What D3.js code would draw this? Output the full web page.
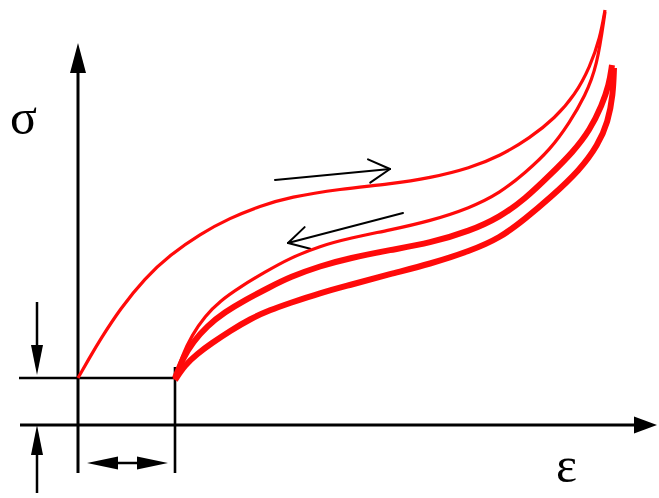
<!DOCTYPE html>
<html>
<head>
<meta charset="utf-8">
<script src="https://cdn.jsdelivr.net/npm/d3@7"></script>
<style>
  html, body { margin: 0; padding: 0; background: #fff; }
  svg { display: block; }
</style>
</head>
<body>
<script>
// ---- data (strain, stress in arbitrary units) ----
const sigma0 = 47;   // initial stress level
const epsRes = 97;   // residual strain after first loop

const loadingCurve = [
  [0,47],[12,68],[22,85],[42,116],[67,147],[92,170],[122,191],[152,207],[182,219],
  [212,228],[262,236],[312,241],[352,247],[392,257],[422,269],[452,287],[477,307],
  [497,330],[512,358],[522,387],[527,415]
];
const unloadCurve1 = [
  [97,47],[104,69],[114,90],[127,109],[142,124],[162,138],[187,153],[212,167],
  [242,179],[272,187],[312,195],[352,204],[392,217],[422,232],[447,252],[472,275],
  [492,303],[507,329],[519,358],[527,413]
];
const unloadCurve2 = [
  [97,47],[105,67],[115,83],[129,99],[147,113],[167,125],[192,138],[212,148],
  [242,159],[272,167],[312,175],[352,182],[392,194],[422,208],[447,226],[472,250],
  [495,273],[512,295],[524,320],[531,340],[534,360]
];
const unloadCurve3 = [
  [97,45],[107,60],[119,71],[134,82],[152,94],[172,106],[192,115],[212,122],
  [242,132],[272,140],[312,151],[352,161],[392,174],[422,187],[447,206],[472,227],
  [502,255],[520,280],[530,303],[535,330],[536,357]
];
const curves = [
  {name: "loading",  pts: loadingCurve, w: 3.2},
  {name: "unload1",  pts: unloadCurve1, w: 3.2},
  {name: "unload2",  pts: unloadCurve2, w: 6},
  {name: "unload3",  pts: unloadCurve3, w: 6}
];
const strainLabel = "ε";
const stressLabel = "σ";

// ---- layout ----
const W = 659, H = 498;
const x = d3.scaleLinear().domain([0, 580]).range([78, 658]);
const y = d3.scaleLinear().domain([0, 425]).range([425, 0]);

const svg = d3.select("body").append("svg").attr("width", W).attr("height", H);

function filledArrow(g, x1, y1, x2, y2, L, hw, sw) {
  const dx = x2 - x1, dy = y2 - y1, len = Math.hypot(dx, dy);
  const ux = dx / len, uy = dy / len;
  const bx = x2 - ux * L, by = y2 - uy * L;
  g.append("line").attr("x1", x1).attr("y1", y1).attr("x2", bx + ux * 2).attr("y2", by + uy * 2)
    .attr("stroke", "#000").attr("stroke-width", sw);
  g.append("path")
    .attr("d", `M${x2},${y2}L${bx - uy * hw},${by + ux * hw}L${bx + uy * hw},${by - ux * hw}Z`)
    .attr("fill", "#000");
}
function filledHead(g, x1, y1, x2, y2, L, hw) {
  const dx = x2 - x1, dy = y2 - y1, len = Math.hypot(dx, dy);
  const ux = dx / len, uy = dy / len;
  const bx = x2 - ux * L, by = y2 - uy * L;
  g.append("path")
    .attr("d", `M${x2},${y2}L${bx - uy * hw},${by + ux * hw}L${bx + uy * hw},${by - ux * hw}Z`)
    .attr("fill", "#000");
}
function openArrow(g, x1, y1, x2, y2, L, ang, sw) {
  const a = Math.atan2(y2 - y1, x2 - x1);
  g.append("line").attr("x1", x1).attr("y1", y1).attr("x2", x2).attr("y2", y2)
    .attr("stroke", "#000").attr("stroke-width", sw).attr("stroke-linecap", "round");
  [ang, -ang].forEach(t => {
    g.append("line").attr("x1", x2).attr("y1", y2)
      .attr("x2", x2 - L * Math.cos(a + t)).attr("y2", y2 - L * Math.sin(a + t))
      .attr("stroke", "#000").attr("stroke-width", sw).attr("stroke-linecap", "round");
  });
}

const g = svg.append("g");

// reference lines
g.append("line").attr("x1", x(-59)).attr("x2", x(epsRes)).attr("y1", y(sigma0)).attr("y2", y(sigma0))
  .attr("stroke", "#000").attr("stroke-width", 2.6);
g.append("line").attr("x1", x(epsRes)).attr("x2", x(epsRes)).attr("y1", y(58)).attr("y2", y(-48))
  .attr("stroke", "#000").attr("stroke-width", 2.6);

// axes
filledArrow(g, x(0), y(-48), x(0), y(382), 30, 8, 3);
filledArrow(g, x(-58), y(0), x(579), y(0), 23, 8.5, 3);

// small dimension arrows
filledArrow(g, x(-41), y(123), x(-41), y(50), 30, 6, 2.5);
filledArrow(g, x(-41), y(-68), x(-41), y(0), 30, 6, 2.5);
g.append("line").attr("x1", x(25)).attr("x2", x(75)).attr("y1", y(-38)).attr("y2", y(-38))
  .attr("stroke", "#000").attr("stroke-width", 2.5);
filledHead(g, x(60), y(-38), x(9), y(-38), 31, 6.5);
filledHead(g, x(30), y(-38), x(90), y(-38), 31, 6.5);

// direction arrows
openArrow(g, x(197), y(245), x(312), y(256), 24, Math.PI / 6.2, 2);
openArrow(g, x(325), y(212), x(210), y(182), 23, Math.PI / 6.2, 2);

// curves
const line = d3.line().x(d => x(d[0])).y(d => y(d[1])).curve(d3.curveBasis);
svg.append("g").selectAll("path").data(curves).join("path")
  .attr("d", d => line(d.pts))
  .attr("fill", "none")
  .attr("stroke", "#ff0a0a")
  .attr("stroke-width", d => d.w)
  .attr("stroke-linecap", "butt");

// labels
svg.append("text").attr("x", 10).attr("y", 134)
  .attr("font-family", "Liberation Serif, Times New Roman, serif").attr("font-size", 50)
  .text(stressLabel);
svg.append("text").attr("x", 556).attr("y", 482)
  .attr("font-family", "Liberation Serif, Times New Roman, serif").attr("font-size", 50)
  .text(strainLabel);
</script>
</body>
</html>
